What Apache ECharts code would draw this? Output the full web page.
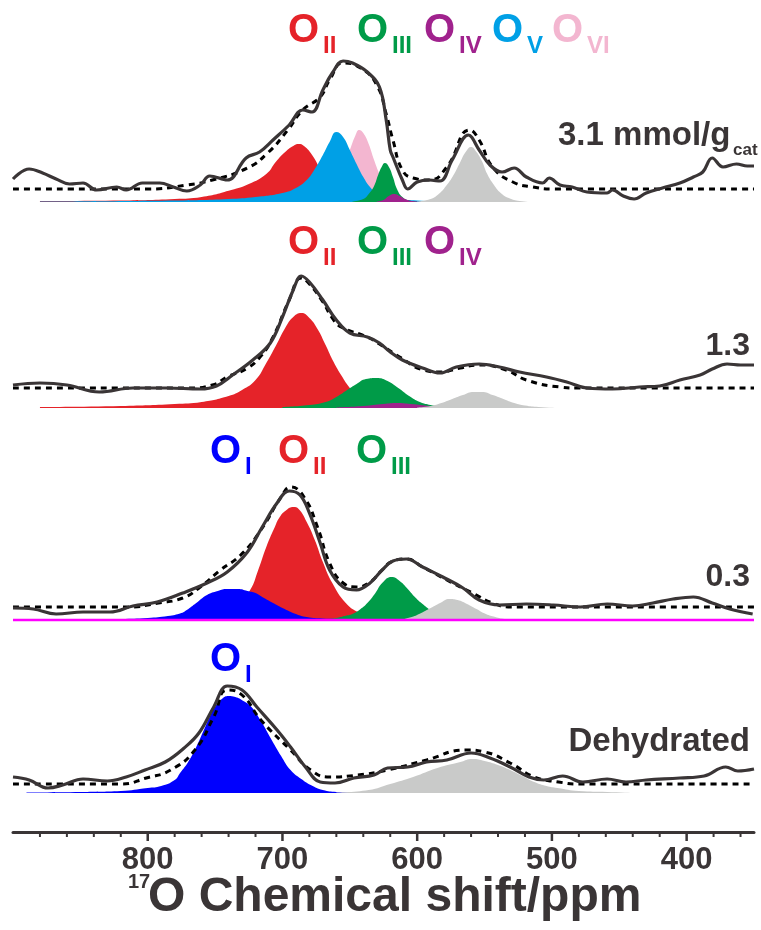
<!DOCTYPE html>
<html><head><meta charset="utf-8">
<script src="https://cdn.jsdelivr.net/npm/echarts@6/dist/echarts.min.js"></script>
<style>html,body{margin:0;padding:0;background:#fff}#c{width:761px;height:930px}</style>
</head><body><div id="c"></div>
<script>
// ---- data: [ppm, intensity] ----
const panelLabels = ['3.1 mmol/g', '1.3', '0.3', 'Dehydrated'];
const majorTicks = [800, 700, 600, 500, 400];
const minorTicks = [880,860,840,820,780,760,740,720,680,660,640,620,580,560,540,520,480,460,440,420,380,360];

// Panel 1: 3.1 mmol/g
const exp31 = [[900,10],[888,20],[878,16],[868,10],[858,5],[848,6],[838,-1],[823,2],[816,-1],[804,6],[791,6],[781,2],[771,-2],[761,4],[754,13],[741,9],[727,31],[717,37],[707,49],[695,64],[685,79],[678,77],[670,99],[663,116],[655,128],[648,126],[637,117],[628,102],[623,69],[620,39],[618,32],[611,9],[607,0],[600,7],[591,9],[583,8],[574,29],[562,54],[554,39],[546,24],[537,17],[528,21],[519,12],[507,6],[502,11],[494,4],[485,2],[474,-3],[459,-4],[455,-1],[447,-7],[439,-10],[430,-4],[418,1],[405,6],[395,12],[388,17],[381,31],[373,22],[363,25],[355,23],[350,23]];
const fit31 = [[900,0],[800,0],[771,4],[752,9],[726,21],[711,36],[696,59],[685,79],[672,92],[665,109],[655,126],[642,121],[630,104],[623,75],[618,49],[611,19],[603,11],[591,9],[578,22],[561,59],[554,49],[544,22],[529,7],[514,2],[500,0],[350,0]];
const c31_II = [[880,1],[820,1.5],[780,3],[760,5],[738,12],[725,18],[712,28],[705,40],[698,50],[692,56],[688,58],[684,56],[678,47],[672,33],[666,20],[660,11],[652,5],[644,2],[630,0.5],[600,0]];
const c31_VI = [[700,0.5],[680,3],[670,8],[662,18],[656,33],[650,52],[646,66],[643,72],[640,69],[636,58],[632,42],[628,28],[624,16],[620,8],[614,3],[600,0.5],[590,0]];
const c31_V = [[880,0.5],[780,1.5],[740,3],[720,5],[700,9],[690,14],[682,22],[676,33],[670,47],[665,60],[660,70],[655,65],[650,52],[645,38],[640,25],[635,15],[630,9],[624,5],[615,3],[600,1.5],[580,0.5],[560,0]];
const c31_III = [[648,0.5],[640,3],[636,8],[632,16],[629,27],[626,36],[624,39],[621,35],[618,25],[615,13],[611,5],[606,1.5],[598,0]];
const c31_IV = [[630,0.5],[625,2],[621,6],[617,8],[613,6],[609,3],[604,1],[595,0]];
const c31_G = [[600,0.5],[590,3],[584,8],[578,17],[573,27],[568,40],[564,50],[560,55],[556,50],[552,41],[548,28],[543,17],[538,9],[532,4],[524,1],[515,0]];

// Panel 2: 1.3
const exp13 = [[900,3],[880,5],[860,3],[836,-4],[811,0],[786,0],[761,-1],[749,2],[737,13],[722,28],[709,45],[700,71],[692,98],[686,112],[680,106],[670,88],[660,68],[650,55],[637,51],[628,45],[620,36],[611,28],[596,20],[583,15],[571,21],[554,24],[539,21],[524,16],[504,11],[489,6],[474,0],[455,-1],[435,1],[420,2],[405,8],[390,13],[381,19],[370,24],[360,23],[350,23]];
const fit13 = [[900,0],[770,0],[752,3],[741,11],[726,20],[716,32],[707,51],[695,88],[686,110],[680,104],[670,86],[662,68],[655,60],[637,51],[628,44],[613,31],[595,18],[583,16],[568,20],[554,23],[534,18],[519,8],[494,1],[480,0],[350,0]];
const c13_II = [[880,1],[820,2],[780,4],[760,6],[740,12],[730,18],[720,28],[712,45],[705,62],[698,80],[692,91],[686,95],[680,90],[674,79],[668,63],[662,46],[656,32],[650,20],[644,11],[638,6],[630,2],[615,0.5],[600,0]];
const c13_III = [[700,1],[680,3],[668,6],[660,11],[652,18],[645,24],[638,29],[630,30],[622,27],[614,20],[606,12],[598,6],[590,3],[580,1],[560,0.5],[500,0]];
const c13_IV = [[660,0.5],[640,2],[625,4],[615,5],[605,4],[590,2],[575,1],[550,0]];
const c13_G = [[600,0.5],[590,2],[582,5],[574,9],[566,13],[558,16],[552,16],[544,13],[536,9],[528,5],[520,2.5],[510,1],[495,0]];

// Panel 3: 0.3
const exp03 = [[900,-1],[885,-2],[868,-7],[848,-5],[828,-5],[811,1],[793,5],[774,14],[756,24],[741,35],[726,55],[715,80],[704,104],[695,116],[687,112],[680,94],[672,64],[665,37],[655,20],[645,17],[635,24],[626,37],[618,46],[608,48],[596,40],[581,30],[566,19],[554,7],[539,2],[519,3],[499,2],[479,0],[459,3],[440,1],[425,4],[410,8],[395,10],[381,4],[368,-2],[351,-7]];
const fit03 = [[900,0],[815,0],[792,4],[774,9],[761,20],[746,37],[731,52],[716,77],[701,110],[694,120],[684,110],[674,80],[665,44],[655,24],[645,20],[635,25],[626,37],[618,46],[608,48],[596,40],[578,27],[559,14],[544,4],[530,0],[350,0]];
const c03_II = [[760,1],[745,4],[735,12],[724,30],[718,50],[712,73],[706,92],[702,103],[697,110],[692,113],[688,111],[682,98],[676,80],[670,58],[663,37],[653,17],[643,7],[635,2],[620,0.5],[600,0]];
const c03_I = [[840,0.5],[820,1],[800,2],[785,4],[775,7],[771,10],[764,17],[756,25],[748,29],[741,31],[733,31],[726,29],[720,27],[715,23],[707,17],[700,12],[690,6],[682,3],[670,1.5],[655,1],[630,0.5],[600,0]];
const c03_III = [[670,0.5],[660,2],[654,4],[648,6],[642,11],[637,17],[631,27],[626,37],[619,43],[613,39],[607,31],[601,22],[596,16],[590,10],[582,5],[572,2],[560,0.5],[540,0]];
const c03_G = [[612,0.5],[604,3],[597,7],[590,12],[583,17],[576,21],[570,20],[563,16],[556,11],[549,6],[542,3],[535,1],[525,0]];
const c03_base = [[900,0],[350,0]];

// Panel 4: Dehydrated
const exp00 = [[900,7],[888,4],[874,-4],[863,-1],[848,5],[830,3],[816,7],[802,14],[787,22],[773,36],[762,51],[751,77],[741,98],[730,94],[719,77],[704,54],[694,37],[683,17],[672,2],[661,1],[647,6],[632,9],[622,16],[607,17],[593,22],[578,24],[560,31],[546,26],[531,17],[517,7],[506,4],[492,8],[477,2],[459,5],[445,2],[430,4],[405,6],[387,8],[371,17],[362,13],[350,15]];
const fit00 = [[900,0],[820,0],[801,6],[783,14],[765,34],[751,67],[741,94],[730,89],[716,64],[694,34],[679,14],[665,7],[644,9],[622,14],[593,24],[564,34],[550,32],[531,21],[513,7],[495,2],[480,0],[350,0]];
const c00_I = [[890,0.5],[850,1],[820,2],[800,5],[790,7],[780,13],[776,20],[770,31],[764,46],[758,64],[754,76],[750,86],[745,94],[740,97],[735,96],[729,92],[723,86],[716,72],[708,53],[701,37],[694,23],[686,14],[679,8],[670,3],[660,1],[645,0]];
const c00_G = [[660,0.5],[636,3],[620,9],[603,16],[585,25],[568,31],[559,34],[550,32],[540,28],[531,23],[522,17],[513,11],[504,7],[496,5],[480,2],[459,1],[440,0]];

// ---- styles ----
const COL = {red:'#e52329', green:'#009b48', purple:'#a0228d', cyan:'#00a0e6', pink:'#f3b6d0', blue:'#0000fe', grey:'#c9cac9', magenta:'#ff00ff', ink:'#3a3536'};
const FONT = "'Liberation Sans', Arial, sans-serif";

const grids = [
  {left:13, right:7, top:42, height:160},
  {left:13, right:7, top:248, height:160},
  {left:13, right:7, top:460, height:160},
  {left:13, right:7, top:633, height:199}
];
const compRange = [[0,160],[0,160],[0,160],[-39,160]];
const specRange = [[-13,147],[-20,140],[-13,147],[-48,151]];

const xAxes = [0,1,2,3].map(i=>({
  type:'value', gridIndex:i, min:350, max:900, inverse:true,
  show: i===3,
  axisLine:{show:true, onZero:false, lineStyle:{color:COL.ink, width:3}},
  axisTick:{show:false}, axisLabel:{show:false}, splitLine:{show:false}
}));
const yAxes = [];
[0,1,2,3].forEach(i=>{
  yAxes.push({type:'value', gridIndex:i, min:compRange[i][0], max:compRange[i][1], show:false});
  yAxes.push({type:'value', gridIndex:i, min:specRange[i][0], max:specRange[i][1], show:false});
});

const series = [];
function area(data, color, gi){
  series.push({type:'line', xAxisIndex:gi, yAxisIndex:gi*2, data, smooth:0.5, showSymbol:false, symbol:'none',
    lineStyle:{width:0, color}, areaStyle:{color, opacity:1}, silent:true, clip:false});
}
function fitLine(data, gi){
  series.push({type:'line', xAxisIndex:gi, yAxisIndex:gi*2+1, data, smooth:0.5, symbol:'none',
    lineStyle:{width:3, color:'#000', type:[6,5]}, silent:true, clip:false});
}
function expLine(data, gi){
  series.push({type:'line', xAxisIndex:gi, yAxisIndex:gi*2+1, data, smooth:0.4, symbol:'none',
    lineStyle:{width:3.2, color:COL.ink}, silent:true, clip:false});
}

// panel 1
area(c31_II, COL.red, 0); area(c31_VI, COL.pink, 0); area(c31_V, COL.cyan, 0);
area(c31_III, COL.green, 0); area(c31_IV, COL.purple, 0); area(c31_G, COL.grey, 0);
fitLine(fit31, 0); expLine(exp31, 0);
// panel 2
area(c13_II, COL.red, 1); area(c13_III, COL.green, 1); area(c13_IV, COL.purple, 1); area(c13_G, COL.grey, 1);
fitLine(fit13, 1); expLine(exp13, 1);
// panel 3
area(c03_II, COL.red, 2); area(c03_I, COL.blue, 2); area(c03_III, COL.green, 2); area(c03_G, COL.grey, 2);
series.push({type:'line', xAxisIndex:2, yAxisIndex:4, data:c03_base, symbol:'none', lineStyle:{width:2.5, color:COL.magenta}, silent:true, clip:false});
fitLine(fit03, 2); expLine(exp03, 2);
// panel 4
area(c00_I, COL.blue, 3); area(c00_G, COL.grey, 3);
fitLine(fit00, 3); expLine(exp00, 3);

// x-axis ticks and labels, placed through the bottom axis scale
const tickData = majorTicks.map(v=>[v,1]).concat(minorTicks.map(v=>[v,0]));
series.push({
  type:'custom', xAxisIndex:3, yAxisIndex:6, data:tickData, clip:false, silent:true, z:5,
  renderItem:(params, api)=>{
    const v = api.value(0), major = api.value(1) === 1;
    const p = api.coord([v, compRange[3][0]]);
    const children = [{type:'line', shape:{x1:p[0], y1:p[1], x2:p[0], y2:p[1] + (major ? 9 : 5)},
      style:{stroke:COL.ink, lineWidth: major ? 2.5 : 2}}];
    if (major) children.push({type:'text', style:{text:String(v), x:p[0], y:p[1]+13, align:'center', verticalAlign:'top',
      font:'bold 31px '+FONT, fill:COL.ink}});
    return {type:'group', children};
  }
});

// ---- annotations ----
const g = [];
function txt(text, x, y, size, color, align){
  g.push({type:'text', x, y, silent:true, style:{text, fill:color, font:'bold '+size+'px '+FONT, align:align||'left', verticalAlign:'middle'}});
}
function olabel(x, y, sub, color){
  txt('O', x, y, 40, color);
  txt(sub, x+35, y+15, 24, color);
}
olabel(288, 31, 'II', COL.red); olabel(357, 31, 'III', COL.green); olabel(424, 31, 'IV', COL.purple);
olabel(492, 31, 'V', COL.cyan); olabel(552, 31, 'VI', COL.pink);
olabel(288, 243, 'II', COL.red); olabel(357, 243, 'III', COL.green); olabel(424, 243, 'IV', COL.purple);
olabel(210, 452, 'I', COL.blue); olabel(278, 452, 'II', COL.red); olabel(356, 452, 'III', COL.green);
olabel(210, 660, 'I', COL.blue);

txt(panelLabels[0], 558, 136, 33, COL.ink);
txt('cat', 733, 150, 17, COL.ink);
txt(panelLabels[1], 750, 346, 32, COL.ink, 'right');
txt(panelLabels[2], 750, 577, 32, COL.ink, 'right');
txt(panelLabels[3], 750, 742, 33, COL.ink, 'right');
txt('17', 128, 882, 20, COL.ink);
txt('O Chemical shift/ppm', 148, 898, 48, COL.ink);

const chart = echarts.init(document.getElementById('c'), null, {renderer:'canvas'});
chart.setOption({
  animation:false,
  backgroundColor:'#fff',
  grid:grids, xAxis:xAxes, yAxis:yAxes, series, graphic:g
});
</script></body></html>
